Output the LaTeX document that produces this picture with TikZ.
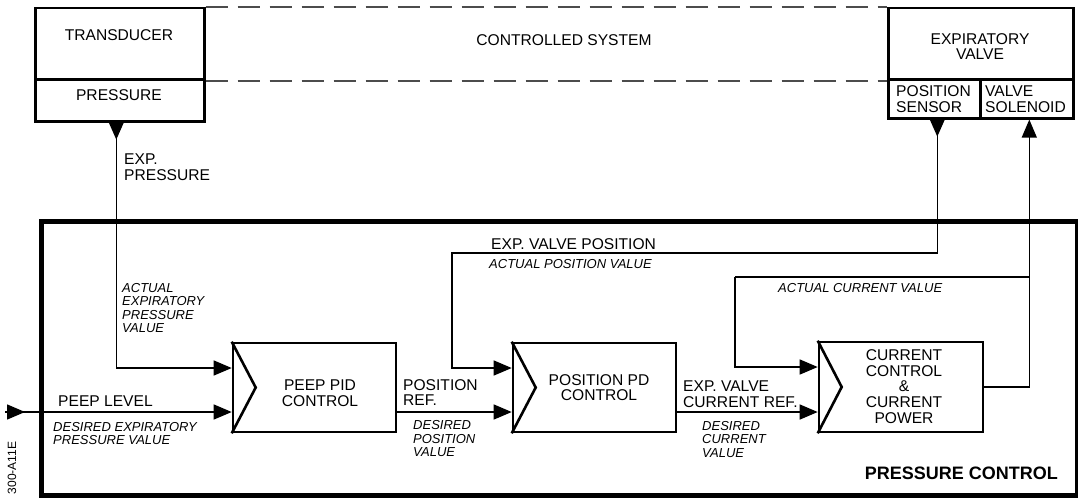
\documentclass[tikz,border=0pt]{standalone}
\usepackage{fontspec}
\setmainfont{Liberation Sans}
\usetikzlibrary{arrows.meta,calc}
\begin{document}
\begin{tikzpicture}[x=1pt,y=-1pt,
  lbl/.style={font=\fontsize{15.6}{15.6}\selectfont, inner sep=0pt, align=left},
  lblc/.style={lbl, align=center},
  ital/.style={font=\fontsize{13}{13.5}\selectfont\itshape, inner sep=0pt, align=left},
  blk/.style={draw, line width=2.6pt, minimum width=163pt, minimum height=89pt, inner sep=0pt},
  box/.style={draw, line width=2.6pt, inner sep=0pt},
  wire/.style={line width=1.4pt},
  arr/.style={wire, -{Triangle[length=18pt,width=15pt]}},
  dsh/.style={line width=2pt, draw=black!70, dash pattern=on 22pt off 10pt},
  outer/.style={draw, line width=4.8pt, inner sep=0pt},
  chev/.style={line width=2.6pt, line join=miter},
]
\useasboundingbox (0,0) rectangle (1078,498);

% outer pressure control frame
\node[outer, anchor=north west, minimum width=1035.5pt, minimum height=274pt] (pc) at (39,219) {};

% controlled system
\node[box, anchor=north west, minimum width=169pt, minimum height=71.5pt] (trtop) at (34,6.5) {};
\node[box, anchor=north west, minimum width=169pt, minimum height=42pt] (trbot) at (34,78) {};
\node[box, anchor=north west, minimum width=185pt, minimum height=71.5pt] (evtop) at (887,6.5) {};
\node[box, anchor=north west, minimum width=92pt, minimum height=39pt] (ps) at (887,78) {};
\node[box, anchor=north west, minimum width=93pt, minimum height=39pt] (vs) at (979,78) {};
\draw[dsh] (trtop.north east) -- (evtop.north west);
\draw[dsh] (trtop.south east) -- (evtop.south west);

\node[lbl] (ttr) at (119,35.3) {TRANSDUCER};
\node[lbl] (tpr) at (119,95.5) {PRESSURE};
\node[lbl] (tcs) at (564,40.5) {CONTROLLED SYSTEM};
\node[lblc] (tev) at (980,46.5) {EXPIRATORY\\VALVE};
\node[lbl, anchor=west] (tps) at (896,99) {POSITION\\SENSOR};
\node[lbl, anchor=west] (tvs) at (985,99) {VALVE\\SOLENOID};

% control blocks
\node[blk] (peep) at (314.5,387.5) {};
\node[blk] (pos) at (594.5,387.5) {};
\node[blk, minimum width=164pt, minimum height=90pt] (cur) at (901,387) {};
\draw[chev] (peep.north west) -- ($(peep.west)+(24,0)$) -- (peep.south west);
\draw[chev] (pos.north west) -- ($(pos.west)+(24,0)$) -- (pos.south west);
\draw[chev] (cur.north west) -- ($(cur.west)+(24,0)$) -- (cur.south west);
\node[lblc] (tpeep) at (320,393) {PEEP PID\\CONTROL};
\node[lblc] (tpos) at (599,387.5) {POSITION PD\\CONTROL};
\node[lblc] (tcur) at (904,386.5) {CURRENT\\CONTROL\\\&\\CURRENT\\POWER};

% pressure feedback
\coordinate (tp) at ($(trbot.south)+(-3.5,0)$);
\fill (tp) ++(-7.5,0) -- ++(15,0) -- ++(-7.5,17) -- cycle;
\draw[arr] (tp) |- ([yshift=19.5pt]peep.west);

% peep level input
\coordinate (in) at (5,412);
\draw[arr] (in) -- ++(20,0);
\draw[arr] (in) -- (in -| peep.west);
\draw[arr] (in -| peep.east) -- (in -| pos.west);
\draw[arr] (in -| pos.east) -- (in -| cur.west);

% position feedback
\coordinate (sp) at ($(ps.south)+(3,0)$);
\fill (sp) ++(-7.5,0) -- ++(15,0) -- ++(-7.5,17) -- cycle;
\coordinate (evp) at (452,253);
\draw[arr] (sp) |- (evp) |- ([yshift=19.5pt]pos.west);

% current output and feedback
\coordinate (vp) at ($(vs.south)+(2.5,0)$);
\draw[arr] (cur.east) -| (vp);
\coordinate (br) at (vp |- 0,277);
\coordinate (acl) at (735,277);
\draw[wire] (br) -- (acl);
\draw[arr] (acl) |- ([yshift=20pt]cur.west);

% labels
\node[lbl, anchor=west] (lep) at (124,167) {EXP.\\PRESSURE};
\node[ital, anchor=west] (laep) at (122,308) {ACTUAL\\EXPIRATORY\\PRESSURE\\VALUE};
\node[lbl, anchor=west] (lpl) at (58,401) {PEEP LEVEL};
\node[ital, anchor=west] (ldep) at (53,433.5) {DESIRED EXPIRATORY\\PRESSURE VALUE};
\node[lbl, anchor=west] (lpr) at (403,392.5) {POSITION\\REF.};
\node[ital, anchor=west] (ldpv) at (413,439) {DESIRED\\POSITION\\VALUE};
\node[lbl, anchor=west] (levp) at (491,244.5) {EXP. VALVE POSITION};
\node[ital, anchor=west] (lapv) at (489,264.5) {ACTUAL POSITION VALUE};
\node[lbl, anchor=west] (levc) at (683,394) {EXP. VALVE\\CURRENT REF.};
\node[ital, anchor=west] (ldcv) at (702,439.5) {DESIRED\\CURRENT\\VALUE};
\node[ital, anchor=west] (lacv) at (778,288) {ACTUAL CURRENT VALUE};
\node[font=\fontsize{18}{18}\selectfont\bfseries, anchor=east, inner sep=0pt] (lpc) at (1058,473.5) {PRESSURE CONTROL};
\node[font=\fontsize{12}{12}\selectfont, rotate=90, inner sep=0pt] (lid) at (12,468) {300-A11E};
\end{tikzpicture}
\end{document}
